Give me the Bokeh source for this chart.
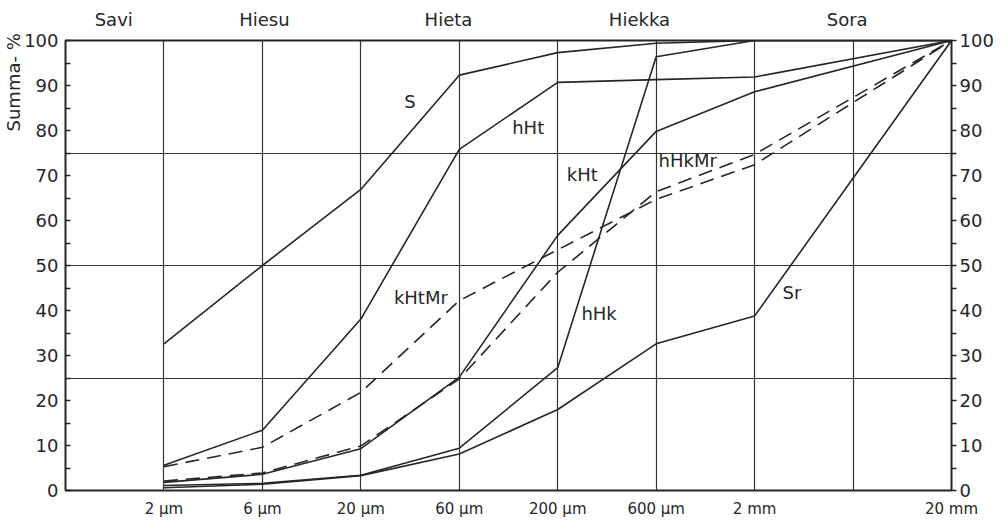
from bokeh.plotting import figure
from bokeh.models import LinearAxis, FixedTicker, Range1d, ColumnDataSource
from bokeh.core.properties import value
from bokeh.embed import file_html
from bokeh.resources import INLINE

# ---- data ----
# fraction boundaries (equally spaced grain-size classes on the chart axis)
size_labels = ["2 µm", "6 µm", "20 µm", "60 µm", "200 µm", "600 µm", "2 mm", "", "20 mm"]
size_pos = [1, 2, 3, 4, 5, 6, 7, 8, 9]
# sieve points used by the curves (2 µm ... 2 mm, 20 mm)
curve_x = [1, 2, 3, 4, 5, 6, 7, 9]

S = [32.6, 50.0, 66.9, 92.3, 97.3, 99.4, 100.0, 100.0]
hHt = [5.6, 13.4, 38.1, 75.8, 90.7, 91.3, 91.9, 100.0]
kHt = [1.8, 3.6, 9.3, 25.2, 56.7, 79.8, 88.6, 100.0]
hHk = [1.1, 1.6, 3.4, 9.4, 27.3, 96.4, 100.0, 100.0]
Sr = [0.6, 1.4, 3.3, 8.1, 18.0, 32.6, 38.8, 100.0]
kHtMr = [5.3, 9.6, 21.8, 42.2, 53.5, 64.7, 72.4, 100.0]
hHkMr = [2.1, 3.9, 9.9, 24.8, 48.5, 66.4, 74.7, 100.0]

series_names = ["S", "hHt", "kHt", "hHk", "Sr", "kHtMr", "hHkMr"]
series_values = [S, hHt, kHt, hHk, Sr, kHtMr, hHkMr]
series_dashed = [False, False, False, False, False, True, True]

# curve label placement
label_x = [3.50, 4.70, 5.25, 5.42, 7.38, 3.61, 6.32]
label_y = [86.4, 80.7, 70.2, 39.3, 44.0, 42.9, 73.3]

# soil fraction names along the top
fraction_names = ["Savi", "Hiesu", "Hieta", "Hiekka", "Sora"]
fraction_pos = [0.49, 2.02, 3.89, 5.83, 7.94]

y_title = "Summa- %"
y_title_pos = 90.7

y_major = list(range(0, 101, 10))
y_minor = list(range(5, 100, 10))
y_grid = [25, 50, 75]
x_grid = [1, 2, 3, 4, 5, 6, 7, 8]

# ---- style ----
INK = "#262626"
FONT = "DejaVu Sans"

p = figure(frame_width=886, frame_height=450,
           x_range=Range1d(0, 9), y_range=Range1d(0, 100),
           output_backend="svg", toolbar_location=None,
           min_border_left=64, min_border_right=39,
           min_border_top=40, min_border_bottom=26,
           background_fill_color="white", border_fill_color="white")

p.outline_line_color = INK
p.outline_line_width = 2

# grids
p.xgrid.ticker = FixedTicker(ticks=x_grid)
p.ygrid.ticker = FixedTicker(ticks=y_grid)
for g in (p.xgrid, p.ygrid):
    g.grid_line_color = "#333333"
    g.grid_line_width = 1.2
    g.grid_line_alpha = 1.0

# bottom axis
xa = p.xaxis[0]
xa.ticker = FixedTicker(ticks=[s for s, l in zip(size_pos, size_labels) if l])
xa.major_label_overrides = {s: l for s, l in zip(size_pos, size_labels) if l}
xa.axis_line_color = None
xa.major_tick_line_color = None
xa.minor_tick_line_color = None
xa.major_label_standoff = 3
xa.major_label_text_font = FONT
xa.major_label_text_font_size = "15px"
xa.major_label_text_color = INK

# left axis
ya = p.yaxis[0]
ya.ticker = FixedTicker(ticks=y_major, minor_ticks=y_minor)
ya.axis_line_color = None
ya.major_tick_in = 5
ya.major_tick_out = 0
ya.minor_tick_in = 5
ya.minor_tick_out = 0
ya.major_tick_line_color = INK
ya.minor_tick_line_color = INK
ya.major_tick_line_width = 1.5
ya.minor_tick_line_width = 1.5
ya.major_label_standoff = 7
ya.major_label_text_font = FONT
ya.major_label_text_font_size = "18px"
ya.major_label_text_color = INK

# outer left axis carrying the y title near the top
ta_y = LinearAxis(ticker=FixedTicker(ticks=[y_title_pos]))
ta_y.major_label_overrides = {y_title_pos: y_title}
ta_y.major_label_orientation = "vertical"
ta_y.axis_line_color = None
ta_y.major_tick_line_color = None
ta_y.minor_tick_line_color = None
ta_y.major_label_standoff = -9
ta_y.major_label_text_font = FONT
ta_y.major_label_text_font_size = "18px"
ta_y.major_label_text_color = INK
p.add_layout(ta_y, "left")

# right axis
ra = LinearAxis(ticker=FixedTicker(ticks=y_major, minor_ticks=y_minor))
ra.axis_line_color = None
ra.major_tick_in = 0
ra.major_tick_out = 5
ra.minor_tick_in = 0
ra.minor_tick_out = 5
ra.major_tick_line_color = INK
ra.minor_tick_line_color = INK
ra.major_tick_line_width = 1.5
ra.minor_tick_line_width = 1.5
ra.major_label_standoff = 3
ra.major_label_text_font = FONT
ra.major_label_text_font_size = "18px"
ra.major_label_text_color = INK
p.add_layout(ra, "right")

# top axis with fraction names
ta = LinearAxis(ticker=FixedTicker(ticks=fraction_pos))
ta.major_label_overrides = {pos: n for pos, n in zip(fraction_pos, fraction_names)}
ta.axis_line_color = None
ta.major_tick_line_color = None
ta.minor_tick_line_color = None
ta.major_label_standoff = 5
ta.major_label_text_font = FONT
ta.major_label_text_font_size = "18px"
ta.major_label_text_color = INK
p.add_layout(ta, "above")

# curves
for name, vals, dashed in zip(series_names, series_values, series_dashed):
    p.line(curve_x, vals, line_color=INK, line_width=1.6,
           line_dash="14 8" if dashed else "solid")

src = ColumnDataSource(dict(x=label_x, y=label_y, t=series_names))
p.text(x="x", y="y", text="t", source=src, text_align="center",
       text_baseline="middle", text_font=value(FONT),
       text_font_size="18px", text_color=INK)

open("out.html", "w").write(file_html(p, INLINE))
